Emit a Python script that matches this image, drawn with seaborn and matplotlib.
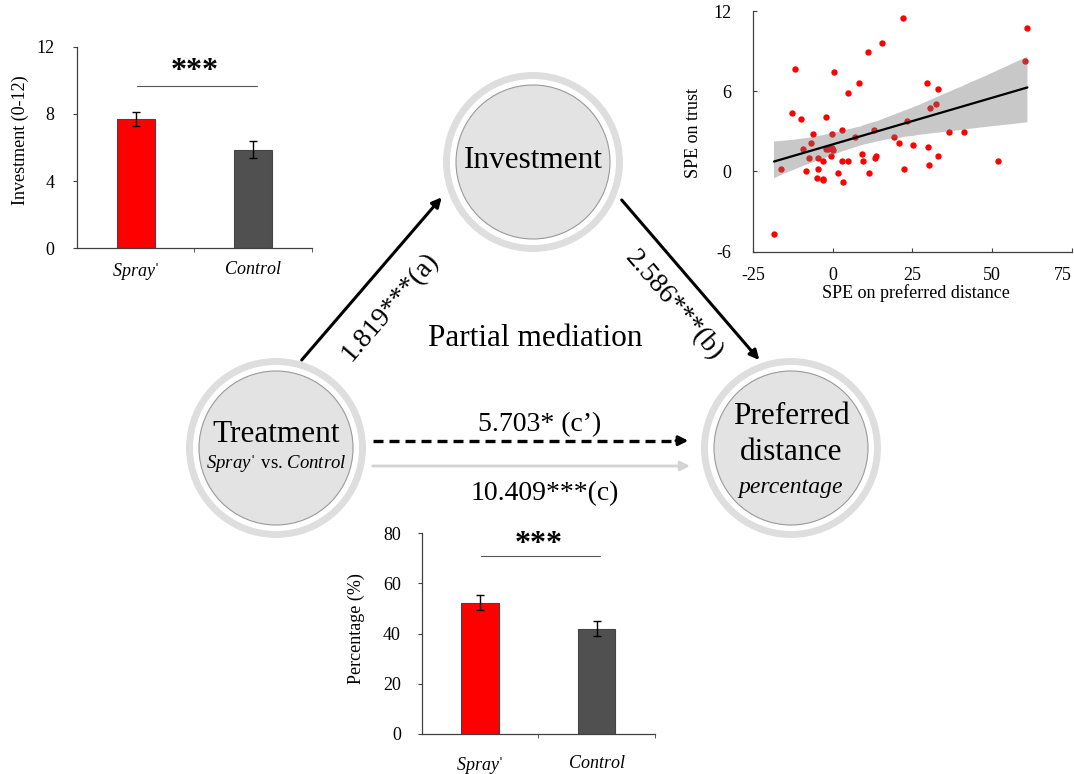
import numpy as np
import pandas as pd
import matplotlib
matplotlib.use("Agg")
import matplotlib.pyplot as plt
from matplotlib.patches import Circle
import seaborn as sns

# ---- data ----
groups = ["Spray", "Control"]
group_labels = [r"$\mathit{Spray}$ˈ", r"$\mathit{Control}$"]
investment_mean = [7.68, 5.87]
investment_sem = [0.42, 0.49]
percentage_mean = [52.3, 41.9]
percentage_sem = [2.9, 3.05]

spe_distance = [-18.5, -16.3, -12.8, -12.0, -9.9, -9.3, -8.3, -7.4, -6.9, -6.2,
                -5.0, -4.8, -4.6, -3.1, -3.1, -3.0, -2.1, -2.3, -1.6, -1.0,
                -0.7, -0.4, -0.2, 0.0, 0.3, 1.5, 2.8, 3.0, 3.2, 4.6,
                4.6, 7.0, 8.2, 9.0, 9.5, 10.9, 11.3, 12.9, 13.2, 13.5,
                15.4, 19.2, 20.7, 21.9, 22.3, 23.4, 25.1, 29.5, 29.8, 30.1,
                30.4, 32.4, 32.9, 33.0, 36.4, 41.3, 51.7, 60.4, 61.1]
spe_trust = [-4.69, 0.15, 4.37, 7.63, 3.92, 1.65, 0.0, 0.97, 2.10, 2.77,
             -0.5, 0.97, 0.15, 0.8, -0.57, -0.67, 4.04, 1.65, 1.65, 1.72,
             1.15, 2.77, 1.72, 1.62, 7.46, -0.15, 3.07, 0.82, -0.8, 5.84,
             0.82, 2.6, 6.64, 1.32, 0.82, 8.91, -0.15, 3.09, 0.97, 1.15,
             9.58, 2.6, 2.1, 11.5, 0.17, 3.74, 1.95, 6.64, 1.8, 0.5,
             4.72, 5.04, 6.16, 1.15, 2.92, 2.92, 0.82, 8.28, 10.7]

path_a = "1.819***(a)"
path_b = "2.586***(b)"
path_c_direct = "5.703* (c’)"
path_c_total = "10.409***(c)"
sig_mark = "***"

# ---- style ----
sns.set_style("ticks")
plt.rcParams["font.family"] = ["Liberation Serif", "DejaVu Serif"]
plt.rcParams["mathtext.fontset"] = "custom"
plt.rcParams["mathtext.rm"] = "Liberation Serif"
plt.rcParams["mathtext.it"] = "Liberation Serif:italic"
plt.rcParams["axes.unicode_minus"] = False
plt.rcParams["axes.edgecolor"] = "#404040"
plt.rcParams["axes.linewidth"] = 0.9
plt.rcParams["text.color"] = "black"
plt.rcParams["axes.labelcolor"] = "black"
plt.rcParams["xtick.labelcolor"] = "black"
plt.rcParams["ytick.labelcolor"] = "black"

W, H = 1074, 774
fig = plt.figure(figsize=(W / 100, H / 100), dpi=100)

# ---- mediation diagram canvas (pixel units) ----
diag = fig.add_axes([0, 0, 1, 1])
diag.set_xlim(0, W)
diag.set_ylim(H, 0)
diag.axis("off")

nodes = {"inv": (533, 162), "trt": (276, 448), "pref": (791, 448)}
for cx, cy in nodes.values():
    diag.add_patch(Circle((cx, cy), 86.5, fill=False, lw=5.0, edgecolor="#dedede"))
    diag.add_patch(Circle((cx, cy), 77, facecolor="#e3e3e3", edgecolor="#9a9a9a", lw=0.8))

big = 22.5
diag.text(533, 161, "Investment", ha="center", va="center", fontsize=big)
diag.text(276, 435, "Treatment", ha="center", va="center", fontsize=big)
diag.text(276, 463, r"$\mathit{Spray}$ˈ vs. $\mathit{Control}$", ha="center", va="center", fontsize=13.5)
diag.text(791, 416, "Preferred", ha="center", va="center", fontsize=big)
diag.text(791, 452, "distance", ha="center", va="center", fontsize=big)
diag.text(791, 488, "percentage", ha="center", va="center", fontsize=17, style="italic")
diag.text(535, 339, "Partial mediation", ha="center", va="center", fontsize=big)


def arrow(p0, p1, color="black", lw=2.2):
    diag.annotate("", xy=p1, xytext=p0,
                  arrowprops=dict(arrowstyle="-|>", color=color, lw=lw,
                                  mutation_scale=14, shrinkA=0, shrinkB=0))


arrow((301.7, 360), (441.7, 197.3))
arrow((621.7, 200), (759.3, 360))
# direct effect (dashed)
diag.plot([372.7, 680], [440.7, 440.7], color="black", lw=2.4, ls=(0, (3.0, 1.8)))
arrow((676, 440.7), (688.3, 440.7))
# total effect
arrow((372.7, 466), (690, 466), color="#d3d3d3", lw=2.0)

diag.text(390, 307, path_a, rotation=49.3, ha="center", va="center",
          rotation_mode="anchor", fontsize=20)
diag.text(674, 306, path_b, rotation=-49.3, ha="center", va="center",
          rotation_mode="anchor", fontsize=20)
diag.text(540, 425, path_c_direct, ha="center", va="center", fontsize=20)
diag.text(545, 494, path_c_total, ha="center", va="center", fontsize=20)

bar_colors = ["#ff0000", "#505050"]


def bar_panel(rect, means, sems, ymax, yticks, ylabel, sig_y, star_y, label_pad, ytick_pad, ylab_xy):
    ax = fig.add_axes(rect)
    ax.set_facecolor("none")
    df = pd.DataFrame({"group": groups, "value": means})
    sns.barplot(data=df, x="group", y="value", hue="group", palette=bar_colors,
                saturation=1, width=0.32, errorbar=None, legend=False, ax=ax,
                edgecolor="#454545", linewidth=0.8)
    ax.errorbar(range(len(groups)), means, yerr=sems, fmt="none",
                ecolor="black", elinewidth=1.0, capsize=3, capthick=1.0)
    ax.set_xlim(-0.5, 1.5)
    ax.set_ylim(0, ymax)
    ax.set_yticks(yticks)
    ax.set_xticks([0, 1])
    ax.set_xticklabels(group_labels, fontsize=13)
    ax.set_xticks([0.5, 1.5], minor=True)
    ax.tick_params(axis="x", which="major", length=0, pad=label_pad)
    ax.tick_params(axis="x", which="minor", length=3, direction="out", color="#404040")
    ax.tick_params(axis="y", length=3, direction="out", pad=ytick_pad, labelsize=13, color="#404040")
    ax.set_xlabel("")
    ax.set_ylabel(ylabel, fontsize=13)
    ax.yaxis.set_label_coords(*ylab_xy)
    ax.yaxis.label.set_verticalalignment("center")
    sns.despine(ax=ax)
    ax.plot([0.01, 1.03], [sig_y, sig_y], color="#555555", lw=0.8)
    ax.text(0.5, star_y, sig_mark, ha="center", va="center", fontsize=23, fontweight="bold")
    return ax


bar_panel([77.3 / W, 1 - 248.3 / H, 234.4 / W, 201.6 / H],
          investment_mean, investment_sem, 12, [0, 4, 8, 12], "Investment (0-12)",
          9.66, 10.55, 9, 13.5, (-0.244, 0.537))
bar_panel([421.7 / W, 1 - 733.7 / H, 233.3 / W, 200.4 / H],
          percentage_mean, percentage_sem, 80, [0, 20, 40, 60, 80], "Percentage (%)",
          71.1, 75.4, 15, 12, (-0.279, 0.526))

# ---- scatter with regression ----
axs = fig.add_axes([753.3 / W, 1 - 251.7 / H, 318.4 / W, 240.7 / H])
axs.set_facecolor("none")
sdf = pd.DataFrame({"distance": spe_distance, "trust": spe_trust})
sns.regplot(data=sdf, x="distance", y="trust", ax=axs, seed=0,
            scatter_kws=dict(color="#ff0000", s=21, linewidths=0, alpha=1),
            line_kws=dict(color="black", lw=1.6))
band = [c for c in axs.collections if c.__class__.__name__ in ("PolyCollection", "FillBetweenPolyCollection")]
for b in band:
    b.set_facecolor("#737373")
    b.set_alpha(0.39)
    b.set_edgecolor("none")
axs.set_xlim(-25, 75)
axs.set_ylim(-6, 12)
axs.set_xticks([-25, 0, 25, 50, 75])
axs.set_yticks([-6, 0, 6, 12])
axs.tick_params(axis="both", direction="in", length=3, labelsize=13, color="#404040")
axs.tick_params(axis="y", pad=16)
axs.tick_params(axis="x", pad=11)
axs.get_xticklabels()[-1].set_horizontalalignment("right")
axs.set_xlabel("SPE on preferred distance", fontsize=13)
axs.set_ylabel("SPE on trust", fontsize=13)
axs.yaxis.set_label_coords(-0.188, 0.492)
axs.yaxis.label.set_verticalalignment("center")
axs.xaxis.set_label_coords(0.51, -0.173)
axs.xaxis.label.set_verticalalignment("center")
sns.despine(ax=axs)

fig.savefig("out.png", dpi=100)
